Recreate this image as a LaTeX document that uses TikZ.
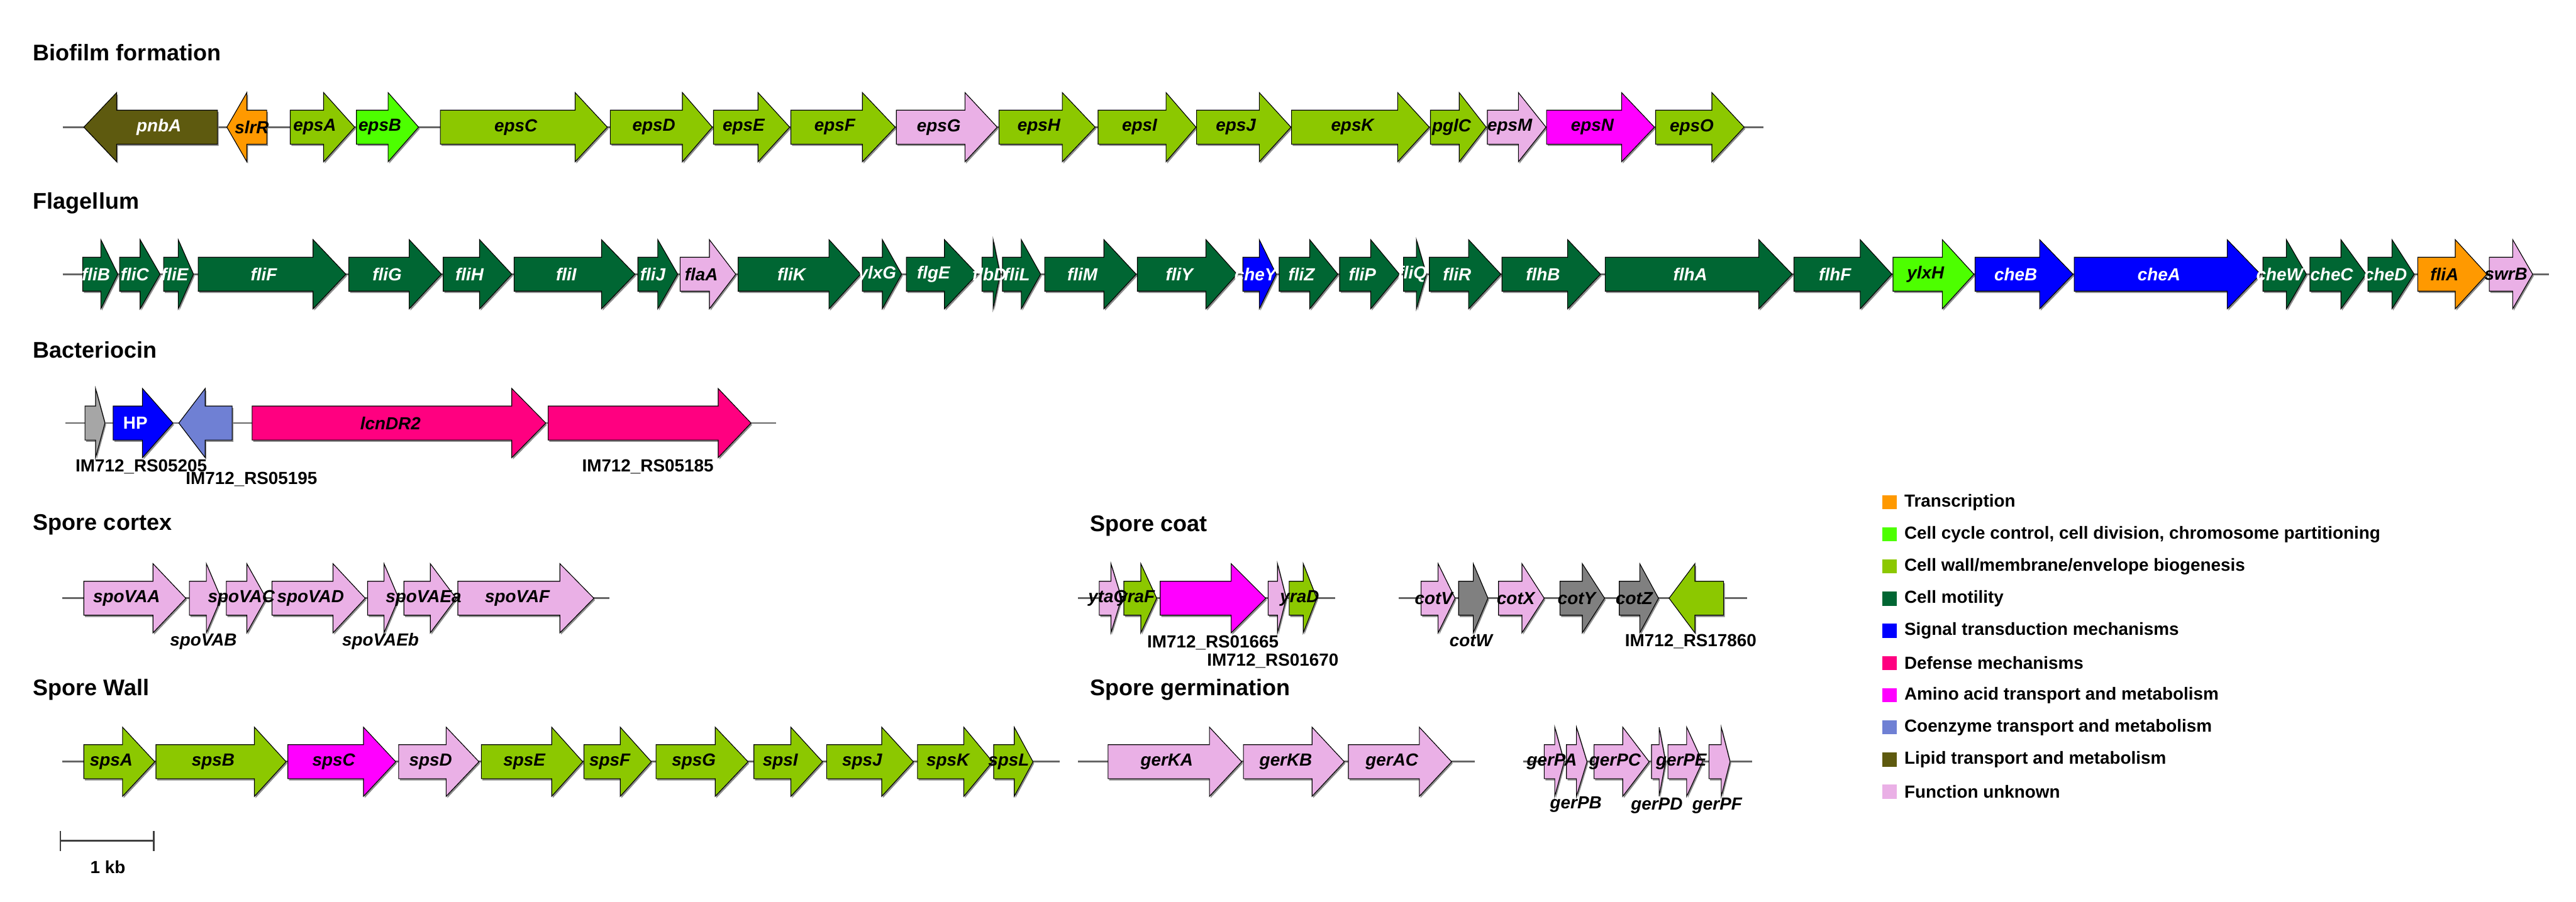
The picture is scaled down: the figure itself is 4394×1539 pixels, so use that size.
\documentclass[tikz,border=0pt]{standalone}
\usepackage{fontspec}
\setmainfont{Liberation Sans}
\usepackage{xcolor}
\usepackage{tikz}
\usetikzlibrary{positioning}
\definecolor{transc}{HTML}{FF9900}
\definecolor{cellcyc}{HTML}{4DFF00}
\definecolor{cellwall}{HTML}{8CC800}
\definecolor{motil}{HTML}{006633}
\definecolor{signal}{HTML}{0000FF}
\definecolor{defense}{HTML}{FF0080}
\definecolor{amino}{HTML}{FF00FF}
\definecolor{coenz}{HTML}{6F80D4}
\definecolor{lipid}{HTML}{5E5A0F}
\definecolor{unknown}{HTML}{EAB0E6}
\definecolor{lightgray}{HTML}{A6A6A6}
\definecolor{cotgray}{HTML}{808080}
\definecolor{spine}{HTML}{666666}
\pgfdeclarelayer{back}
\pgfdeclarelayer{shapes}
\pgfsetlayers{back,shapes,main}

% name, row y, start, head base, tip, fill, label colour, label
\newcommand{\gene}[8]{%
  \begin{pgfonlayer}{shapes}
    \fill[genshadow, shift={(2,3)}] ({#3},{#2-29}) -- ({#4},{#2-29}) -- ({#4},{#2-59}) -- ({#5},{#2}) -- ({#4},{#2+59}) -- ({#4},{#2+29}) -- ({#3},{#2+29}) -- cycle;
    \filldraw[genebody, fill=#6] ({#3},{#2-29}) -- ({#4},{#2-29}) -- ({#4},{#2-59}) -- ({#5},{#2}) -- ({#4},{#2+59}) -- ({#4},{#2+29}) -- ({#3},{#2+29}) -- cycle;
  \end{pgfonlayer}
  \node[genelabel, text=#7] (#1) at ({(#3+(#4+#5)/2)/2},#2) {#8};
}

\begin{document}
\begin{tikzpicture}[
    x=0.1mm, y=-0.1mm,
    genebody/.style={draw=black, line width=0.35pt},
    genshadow/.style={fill=black!45},
    genelabel/.style={font=\fontsize{8.5}{10}\selectfont\bfseries\itshape, inner sep=0pt},
    sublabel/.style={font=\fontsize{8.5}{10}\selectfont\bfseries, inner sep=0pt},
    sublabelit/.style={font=\fontsize{8.5}{10}\selectfont\bfseries\itshape, inner sep=0pt},
    grouptitle/.style={font=\fontsize{11}{13}\selectfont\bfseries, anchor=west, inner sep=0pt},
    backbone/.style={draw=spine, line width=0.3mm},
    legbox/.style={minimum size=2.4mm, inner sep=0pt},
    legtext/.style={font=\fontsize{8.5}{10}\selectfont\bfseries, inner sep=0pt}
]
    \useasboundingbox (0,0) rectangle (4394,1539);

    % titles
    \node[grouptitle] (tbiofilm) at (56,90) {Biofilm formation};
    \node[grouptitle] (tflagellum) at (56,347) {Flagellum};
    \node[grouptitle] (tbacteriocin) at (56,597) {Bacteriocin};
    \node[grouptitle] (tcortex) at (56,895) {Spore cortex};
    \node[grouptitle] (tcoat) at (1859,897) {Spore coat};
    \node[grouptitle] (twall) at (56,1177) {Spore Wall};
    \node[grouptitle] (tgerm) at (1859,1177) {Spore germination};

    % backbones
    \coordinate (bfL) at (107,217);   \coordinate (bfR) at (3008,217);
    \coordinate (flL) at (107,468);   \coordinate (flR) at (4348,468);
    \coordinate (bcL) at (112,722);   \coordinate (bcR) at (1324,722);
    \coordinate (cxL) at (106,1021);  \coordinate (cxR) at (1040,1021);
    \coordinate (caL) at (1839,1021); \coordinate (caR) at (2277,1021);
    \coordinate (cbL) at (2386,1021); \coordinate (cbR) at (2980,1021);
    \coordinate (swL) at (106,1300);  \coordinate (swR) at (1808,1300);
    \coordinate (gaL) at (1839,1300); \coordinate (gaR) at (2516,1300);
    \coordinate (gbL) at (2598,1300); \coordinate (gbR) at (2989,1300);
    \begin{pgfonlayer}{back}
        \draw[backbone] (bfL) -- (bfR);
        \draw[backbone] (flL) -- (flR);
        \draw[backbone] (bcL) -- (bcR);
        \draw[backbone] (cxL) -- (cxR);
        \draw[backbone] (caL) -- (caR);
        \draw[backbone] (cbL) -- (cbR);
        \draw[backbone] (swL) -- (swR);
        \draw[backbone] (gaL) -- (gaR);
        \draw[backbone] (gbL) -- (gbR);
    \end{pgfonlayer}

    % biofilm formation
    \gene{pnbA}{217}{371}{199}{143}{lipid}{white}{pnbA}
    \gene{slrR}{217}{455}{421}{387}{transc}{black}{slrR}
    \gene{epsA}{217}{495}{552}{605}{cellwall}{black}{epsA}
    \gene{epsB}{217}{608}{662}{714}{cellcyc}{black}{epsB}
    \gene{epsC}{217}{751}{981}{1036}{cellwall}{black}{epsC}
    \gene{epsD}{217}{1041}{1164}{1215}{cellwall}{black}{epsD}
    \gene{epsE}{217}{1217}{1293}{1347}{cellwall}{black}{epsE}
    \gene{epsF}{217}{1349}{1471}{1527}{cellwall}{black}{epsF}
    \gene{epsG}{217}{1529}{1646}{1701}{unknown}{black}{epsG}
    \gene{epsH}{217}{1704}{1812}{1868}{cellwall}{black}{epsH}
    \gene{epsI}{217}{1873}{1989}{2040}{cellwall}{black}{epsI}
    \gene{epsJ}{217}{2041}{2148}{2202}{cellwall}{black}{epsJ}
    \gene{epsK}{217}{2203}{2384}{2438}{cellwall}{black}{epsK}
    \gene{pglC}{217}{2440}{2489}{2535}{cellwall}{black}{pglC}
    \gene{epsM}{217}{2537}{2590}{2637}{unknown}{black}{epsM}
    \gene{epsN}{217}{2638}{2766}{2822}{amino}{black}{epsN}
    \gene{epsO}{217}{2824}{2920}{2975}{cellwall}{black}{epsO}

    % flagellum
    \gene{fliB}{468}{141}{172}{201}{motil}{white}{fliB}
    \gene{fliC}{468}{204}{239}{273}{motil}{white}{fliC}
    \gene{fliE}{468}{279}{304}{330}{motil}{white}{fliE}
    \gene{fliF}{468}{338}{534}{590}{motil}{white}{fliF}
    \gene{fliG}{468}{595}{698}{753}{motil}{white}{fliG}
    \gene{fliH}{468}{756}{818}{873}{motil}{white}{fliH}
    \gene{fliI}{468}{877}{1026}{1083}{motil}{white}{fliI}
    \gene{fliJ}{468}{1088}{1122}{1156}{motil}{white}{fliJ}
    \gene{flaA}{468}{1160}{1210}{1255}{unknown}{black}{flaA}
    \gene{fliK}{468}{1259}{1414}{1468}{motil}{white}{fliK}
    \gene{ylxG}{468}{1471}{1505}{1538}{motil}{white}{ylxG}
    \gene{flgE}{468}{1546}{1611}{1667}{motil}{white}{flgE}
    \gene{flbD}{468}{1675}{1694}{1706}{motil}{white}{flbD}
    \gene{fliL}{468}{1710}{1742}{1775}{motil}{white}{fliL}
    \gene{fliM}{468}{1782}{1883}{1938}{motil}{white}{fliM}
    \gene{fliY}{468}{1940}{2057}{2110}{motil}{white}{fliY}
    \gene{cheY}{468}{2120}{2148}{2177}{signal}{white}{cheY}
    \gene{fliZ}{468}{2182}{2234}{2282}{motil}{white}{fliZ}
    \gene{fliP}{468}{2285}{2338}{2387}{motil}{white}{fliP}
    \gene{fliQ}{468}{2394}{2416}{2433}{motil}{white}{fliQ}
    \gene{fliR}{468}{2438}{2505}{2560}{motil}{white}{fliR}
    \gene{flhB}{468}{2562}{2674}{2730}{motil}{white}{flhB}
    \gene{flhA}{468}{2738}{3000}{3057}{motil}{white}{flhA}
    \gene{flhF}{468}{3060}{3173}{3227}{motil}{white}{flhF}
    \gene{ylxH}{468}{3229}{3313}{3367}{cellcyc}{black}{ylxH}
    \gene{cheB}{468}{3369}{3479}{3536}{signal}{white}{cheB}
    \gene{cheA}{468}{3538}{3799}{3856}{signal}{white}{cheA}
    \gene{cheW}{468}{3860}{3900}{3934}{motil}{white}{cheW}
    \gene{cheC}{468}{3940}{3993}{4036}{motil}{white}{cheC}
    \gene{cheD}{468}{4039}{4080}{4118}{motil}{white}{cheD}
    \gene{fliA}{468}{4124}{4188}{4242}{transc}{black}{fliA}
    \gene{swrB}{468}{4246}{4286}{4320}{unknown}{black}{swrB}

    % bacteriocin
    \gene{rs05205}{722}{145}{163}{179}{lightgray}{black}{}
    \gene{hp}{722}{193}{243}{295}{signal}{white}{\upshape HP}
    \gene{rs05195}{722}{396}{350}{305}{coenz}{black}{}
    \gene{lcnDR2}{722}{430}{873}{931}{defense}{black}{lcnDR2}
    \gene{rs05185}{722}{935}{1225}{1281}{defense}{black}{}
    \node[sublabel] (lab05205) at (241,797) {IM712\_RS05205};
    \node[sublabel] (lab05195) at (429,818) {IM712\_RS05195};
    \node[sublabel] (lab05185) at (1105,797) {IM712\_RS05185};

    % spore cortex
    \gene{spoVAA}{1021}{143}{261}{317}{unknown}{black}{spoVAA}
    \gene{spoVAB}{1021}{323}{352}{377}{unknown}{black}{}
    \gene{spoVAC}{1021}{386}{421}{454}{unknown}{black}{spoVAC}
    \gene{spoVAD}{1021}{464}{568}{623}{unknown}{black}{spoVAD}
    \gene{spoVAEb}{1021}{627}{655}{680}{unknown}{black}{}
    \gene{spoVAEa}{1021}{689}{734}{778}{unknown}{black}{spoVAEa}
    \gene{spoVAF}{1021}{781}{955}{1013}{unknown}{black}{spoVAF}
    \node[sublabelit] (labVAB) at (347,1095) {spoVAB};
    \node[sublabelit] (labVAEb) at (649,1095) {spoVAEb};

    % spore coat
    \gene{ytaG}{1021}{1875}{1895}{1913}{unknown}{black}{ytaG}
    \gene{yraF}{1021}{1917}{1946}{1973}{cellwall}{black}{yraF}
    \gene{rs01665}{1021}{1979}{2100}{2159}{amino}{black}{}
    \gene{rs01670}{1021}{2163}{2179}{2194}{unknown}{black}{}
    \gene{yraD}{1021}{2199}{2223}{2246}{cellwall}{black}{yraD}
    \gene{cotV}{1021}{2424}{2453}{2482}{unknown}{black}{cotV}
    \gene{cotW}{1021}{2488}{2513}{2538}{cotgray}{black}{}
    \gene{cotX}{1021}{2556}{2596}{2634}{unknown}{black}{cotX}
    \gene{cotY}{1021}{2661}{2699}{2737}{cotgray}{black}{cotY}
    \gene{cotZ}{1021}{2762}{2797}{2829}{cotgray}{black}{cotZ}
    \gene{rs17860}{1021}{2940}{2891}{2847}{cellwall}{black}{}
    \node[sublabel] (lab01665) at (2069,1097) {IM712\_RS01665};
    \node[sublabel] (lab01670) at (2171,1128) {IM712\_RS01670};
    \node[sublabelit] (labcotW) at (2509,1093) {cotW};
    \node[sublabel] (lab17860) at (2884,1095) {IM712\_RS17860};

    % spore wall
    \gene{spsA}{1300}{143}{209}{264}{cellwall}{black}{spsA}
    \gene{spsB}{1300}{266}{434}{488}{cellwall}{black}{spsB}
    \gene{spsC}{1300}{491}{620}{675}{amino}{black}{spsC}
    \gene{spsD}{1300}{680}{761}{817}{unknown}{black}{spsD}
    \gene{spsE}{1300}{821}{941}{994}{cellwall}{black}{spsE}
    \gene{spsF}{1300}{996}{1058}{1111}{cellwall}{black}{spsF}
    \gene{spsG}{1300}{1119}{1220}{1276}{cellwall}{black}{spsG}
    \gene{spsI}{1300}{1286}{1349}{1403}{cellwall}{black}{spsI}
    \gene{spsJ}{1300}{1410}{1504}{1558}{cellwall}{black}{spsJ}
    \gene{spsK}{1300}{1565}{1644}{1693}{cellwall}{black}{spsK}
    \gene{spsL}{1300}{1695}{1730}{1762}{cellwall}{black}{spsL}

    % spore germination
    \gene{gerKA}{1300}{1890}{2063}{2118}{unknown}{black}{gerKA}
    \gene{gerKB}{1300}{2121}{2238}{2293}{unknown}{black}{gerKB}
    \gene{gerAC}{1300}{2300}{2421}{2476}{unknown}{black}{gerAC}
    \gene{gerPA}{1300}{2634}{2652}{2668}{unknown}{black}{gerPA}
    \gene{gerPB}{1300}{2672}{2689}{2707}{unknown}{black}{}
    \gene{gerPC}{1300}{2719}{2768}{2813}{unknown}{black}{gerPC}
    \gene{gerPD}{1300}{2817}{2830}{2841}{unknown}{black}{}
    \gene{gerPE}{1300}{2845}{2877}{2904}{unknown}{black}{gerPE}
    \gene{gerPF}{1300}{2915}{2936}{2951}{unknown}{black}{}
    \node[sublabelit] (labPB) at (2688,1373) {gerPB};
    \node[sublabelit] (labPD) at (2826,1375) {gerPD};
    \node[sublabelit] (labPF) at (2929,1375) {gerPF};

    % scale bar
    \coordinate (sbL) at (103,1435);
    \coordinate (sbR) at (262,1435);
    \draw[backbone, draw=black!75] (sbL) -- (sbR);
    \draw[backbone, draw=black!75] (103,1418) -- (103,1452);
    \draw[backbone, draw=black!75] (262,1418) -- (262,1452);
    \node[sublabel] (kb) at (184,1480) {1 kb};

    % legend
    \foreach \col/\txt [count=\i] in {transc/Transcription,
        cellcyc/{Cell cycle control, cell division, chromosome partitioning},
        cellwall/{Cell wall/membrane/envelope biogenesis},
        motil/Cell motility,
        signal/Signal transduction mechanisms,
        defense/Defense mechanisms,
        amino/Amino acid transport and metabolism,
        coenz/Coenzyme transport and metabolism,
        lipid/Lipid transport and metabolism,
        unknown/Function unknown} {
        \node[legbox, fill=\col] (leg\i) at (3223,{857+54.9*(\i-1)}) {};
        \node[legtext, right=1.2mm of leg\i] (legt\i) {\txt};
    }
\end{tikzpicture}
\end{document}
